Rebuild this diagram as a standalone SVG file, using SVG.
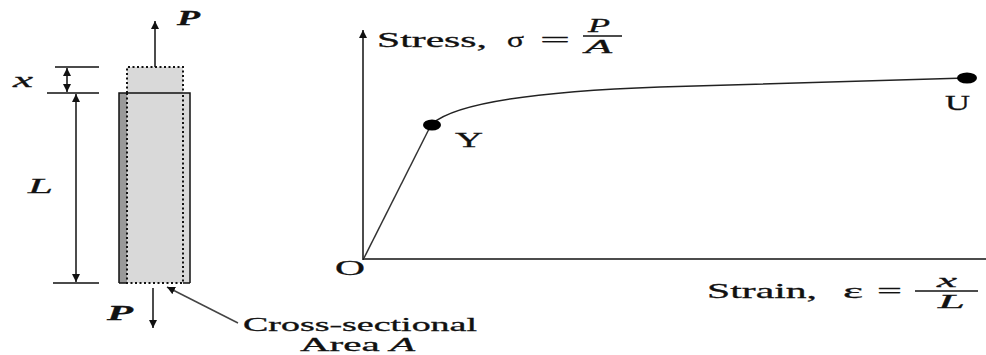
<svg xmlns="http://www.w3.org/2000/svg" width="986" height="355" viewBox="0 0 986 355">
<style>
.t{font-family:"Liberation Serif","Times New Roman",serif;fill:#111;stroke:#111;stroke-width:0.3;}
.i{font-style:italic;}
.b{font-weight:bold;}
.ln{stroke:#111;stroke-width:1.5;fill:none;}
.dot{stroke:#111;stroke-width:2;stroke-dasharray:2 2.5;fill:none;}
</style>
<defs>
<marker id="ah" viewBox="0 0 10 10" refX="10" refY="5" markerWidth="8" markerHeight="8" markerUnits="userSpaceOnUse" orient="auto-start-reverse">
<path d="M0,0 L10,5 L0,10 z" fill="#111"/>
</marker>
</defs>
<g id="bar">
<rect x="127" y="67" width="56" height="26" fill="#d9d9d9"/>
<rect x="119" y="93" width="71" height="190" fill="#d9d9d9"/>
<rect x="119" y="93" width="8" height="190" fill="#999"/>
<path class="ln" d="M119,283 L119,93 L190,93 L190,283 M119,283 L127,283 M183,283 L190,283"/>
<path class="dot" d="M127,93 L127,67 L183,67 L183,93"/>
<path class="dot" d="M127,93 L127,283 L183,283 L183,93"/>
</g>
<g id="dims">
<path class="ln" d="M55,67 L99,67 M47,93 L99,93 M53,283 L99,283"/>
</g>
<g id="connectors">
<line class="ln" x1="155" y1="67" x2="155" y2="21" marker-end="url(#ah)"/>
<line class="ln" x1="153" y1="288" x2="153" y2="328" marker-end="url(#ah)"/>
<line class="ln" x1="67" y1="68" x2="67" y2="92" marker-start="url(#ah)" marker-end="url(#ah)"/>
<line class="ln" x1="76" y1="94" x2="76" y2="282" marker-start="url(#ah)" marker-end="url(#ah)"/>
<line x1="238" y1="323" x2="167" y2="287" stroke="#444" stroke-width="1.5" marker-end="url(#ah)"/>
<line class="ln" x1="363" y1="260" x2="363" y2="30" marker-end="url(#ah)"/>
<line class="ln" x1="363" y1="259" x2="986" y2="259"/>
<line x1="364" y1="258" x2="430" y2="127" stroke="#333" stroke-width="1.5"/>
<path d="M432,124 C452,106 520,92 660,87 S900,79 966,78" stroke="#222" stroke-width="1.5" fill="none"/>
</g>
<g id="Y"><ellipse cx="432" cy="125" rx="9" ry="5.5" fill="#000"/>
<text class="t" x="455" y="147" font-size="22" textLength="28" lengthAdjust="spacingAndGlyphs">Y</text></g>
<g id="U"><ellipse cx="967" cy="78" rx="10" ry="5.5" fill="#000"/>
<text class="t" x="945" y="110" font-size="22" textLength="25" lengthAdjust="spacingAndGlyphs">U</text></g>
<g id="O"><text class="t" x="335" y="275" font-size="21" textLength="30" lengthAdjust="spacingAndGlyphs">O</text></g>
<g id="labels">
<text class="t i b" x="177" y="25" font-size="20" textLength="23" lengthAdjust="spacingAndGlyphs">P</text>
<text class="t i b" x="107" y="320" font-size="20" textLength="26" lengthAdjust="spacingAndGlyphs">P</text>
<text class="t i" x="13" y="87" font-size="21" textLength="20" lengthAdjust="spacingAndGlyphs">x</text>
<text class="t i" x="28" y="193" font-size="22" textLength="25" lengthAdjust="spacingAndGlyphs">L</text>
<text class="t" x="243" y="331" font-size="19" textLength="234" lengthAdjust="spacingAndGlyphs">Cross-sectional</text>
<text class="t" x="300" y="351" font-size="19" textLength="115" lengthAdjust="spacingAndGlyphs">Area <tspan class="i">A</tspan></text>
</g>
<g id="stress-label">
<text class="t" x="377" y="47" font-size="21" textLength="110" lengthAdjust="spacingAndGlyphs">Stress,</text>
<text class="t" x="507" y="47" font-size="22" textLength="17" lengthAdjust="spacingAndGlyphs">σ</text>
<text class="t" x="540" y="47" font-size="21" textLength="30" lengthAdjust="spacingAndGlyphs">=</text>
<line x1="583" y1="36" x2="622" y2="36" stroke="#111" stroke-width="1.3"/>
<text class="t i" x="588" y="32" font-size="19" textLength="22" lengthAdjust="spacingAndGlyphs">P</text>
<text class="t i" x="585" y="53" font-size="19" textLength="27" lengthAdjust="spacingAndGlyphs">A</text>
</g>
<g id="strain-label">
<text class="t" x="707" y="298" font-size="21" textLength="110" lengthAdjust="spacingAndGlyphs">Strain,</text>
<text class="t" x="843" y="298" font-size="21" textLength="20" lengthAdjust="spacingAndGlyphs">ε</text>
<text class="t" x="877" y="298" font-size="21" textLength="25" lengthAdjust="spacingAndGlyphs">=</text>
<line x1="915" y1="291" x2="978" y2="291" stroke="#111" stroke-width="1.3"/>
<text class="t i" x="937" y="287" font-size="19" textLength="20" lengthAdjust="spacingAndGlyphs">x</text>
<text class="t i" x="938" y="308" font-size="19" textLength="27" lengthAdjust="spacingAndGlyphs">L</text>
</g>
</svg>
